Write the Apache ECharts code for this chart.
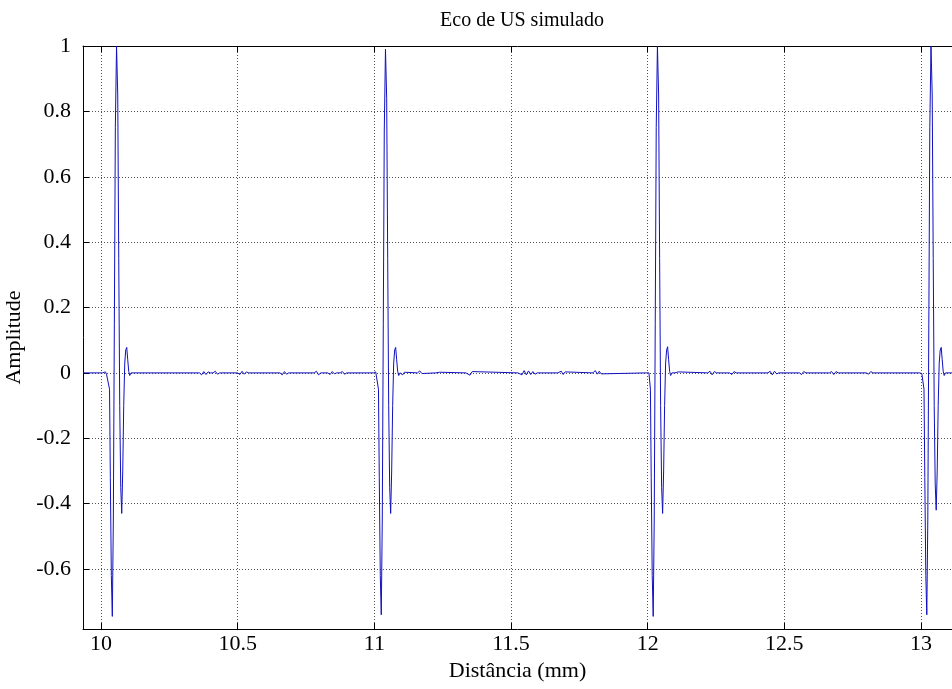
<!DOCTYPE html>
<html>
<head>
<meta charset="utf-8">
<title>Eco de US simulado</title>
<script src="https://cdn.jsdelivr.net/npm/echarts@6/dist/echarts.min.js"></script>
<style>
  html, body { margin: 0; padding: 0; background: #ffffff; }
  #chart { width: 952px; height: 689px; }
</style>
</head>
<body>
<div id="chart"></div>
<script>
// Tick positions of both axes
const xTicks = [10, 10.5, 11, 11.5, 12, 12.5, 13];
const yTicks = [-0.6, -0.4, -0.2, 0, 0.2, 0.4, 0.6, 0.8, 1];

// Visible window of the plot (mm, amplitude)
const xRange = [9.934, 13.1135];
const yRange = [-0.7835, 1];

// Echo pulses: [distance (mm), amplitude]
const echo1 = [
  [10.0256, 0], [10.0311, -0.05], [10.0340, -0.32], [10.0377, -0.62], [10.0413, -0.745],
  [10.0450, -0.45], [10.0487, 0.15], [10.0523, 0.75], [10.0567, 1.0], [10.0611, 0.85],
  [10.0648, 0.35], [10.0684, -0.1], [10.0721, -0.35], [10.0757, -0.43], [10.0794, -0.3],
  [10.0830, -0.1], [10.0867, 0.03], [10.0904, 0.07], [10.0940, 0.078], [10.0977, 0.04],
  [10.1013, 0.005], [10.1050, -0.008], [10.1098, 0]
];
const echo2 = [
  [11.0096, 0], [11.0151, -0.05], [11.0180, -0.32], [11.0217, -0.62], [11.0253, -0.74],
  [11.0290, -0.45], [11.0327, 0.15], [11.0363, 0.74], [11.0407, 0.99], [11.0451, 0.84],
  [11.0488, 0.35], [11.0524, -0.1], [11.0561, -0.35], [11.0597, -0.43], [11.0634, -0.3],
  [11.0670, -0.1], [11.0707, 0.03], [11.0744, 0.07], [11.0780, 0.078], [11.0817, 0.04],
  [11.0853, 0.005], [11.0890, -0.008], [11.0938, 0]
];
const echo3 = [
  [12.0046, 0], [12.0101, -0.05], [12.0130, -0.32], [12.0167, -0.62], [12.0203, -0.745],
  [12.0240, -0.45], [12.0277, 0.15], [12.0313, 0.75], [12.0357, 1.0], [12.0401, 0.85],
  [12.0438, 0.35], [12.0474, -0.1], [12.0511, -0.35], [12.0547, -0.43], [12.0584, -0.3],
  [12.0620, -0.1], [12.0657, 0.03], [12.0694, 0.07], [12.0730, 0.08], [12.0767, 0.04],
  [12.0803, 0.005], [12.0840, -0.008], [12.0888, 0]
];
const echo4 = [
  [13.0056, 0], [13.0111, -0.05], [13.0140, -0.32], [13.0177, -0.62], [13.0213, -0.74],
  [13.0250, -0.45], [13.0287, 0.15], [13.0323, 0.75], [13.0367, 1.0], [13.0411, 0.85],
  [13.0448, 0.35], [13.0484, -0.1], [13.0521, -0.34], [13.0557, -0.42], [13.0594, -0.3],
  [13.0630, -0.1], [13.0667, 0.03], [13.0704, 0.07], [13.0740, 0.078], [13.0777, 0.04],
  [13.0813, 0.005], [13.0850, -0.008], [13.0898, 0]
];

// Small ripples on the baseline between echoes
const ripples = [
  [9.934, 0], [10.005, 0], [10.010, 0.004], [10.016, 0.003], [10.020, -0.004], [10.023, 0.002],
  [10.36, 0], [10.368, -0.006], [10.376, 0.004], [10.384, -0.005], [10.392, 0.003], [10.40, 0],
  [10.41, 0], [10.418, 0.005], [10.426, -0.004], [10.434, 0],
  [10.50, 0], [10.508, -0.005], [10.516, 0.005], [10.524, -0.004], [10.532, 0.003], [10.54, 0],
  [10.655, 0], [10.663, -0.006], [10.671, 0.004], [10.679, -0.004], [10.687, 0],
  [10.78, 0], [10.788, 0.005], [10.796, -0.006], [10.804, 0],
  [10.83, 0], [10.838, -0.005], [10.846, 0.004], [10.854, -0.003], [10.862, 0],
  [10.875, 0], [10.883, 0.004], [10.891, -0.004], [10.899, 0],
  [10.996, 0], [11.001, -0.003], [11.005, 0.003],
  [11.100, 0], [11.104, -0.006], [11.110, 0.002], [11.115, 0],
  [11.158, 0], [11.166, 0.006], [11.174, -0.002], [11.180, 0],
  [11.225, 0], [11.232, -0.006], [11.239, 0.002], [11.245, 0],
  [11.335, 0], [11.342, 0.005], [11.350, -0.007], [11.358, 0.004], [11.365, 0],
  [11.525, 0], [11.532, 0.006], [11.540, -0.006], [11.548, 0.007], [11.556, -0.006],
  [11.564, 0.006], [11.572, -0.005], [11.580, 0.004], [11.588, -0.004], [11.596, 0],
  [11.670, 0], [11.677, -0.005], [11.684, 0.005], [11.691, -0.005], [11.698, 0.003], [11.705, 0],
  [11.800, 0], [11.808, 0.007], [11.816, -0.004], [11.823, 0.005], [11.830, -0.003], [11.837, 0],
  [11.995, 0], [12.000, -0.003], [12.002, 0.002],
  [12.100, 0], [12.106, -0.006], [12.112, 0.003], [12.118, 0],
  [12.220, 0], [12.228, 0.005], [12.236, -0.006], [12.244, 0.004], [12.252, 0],
  [12.300, 0], [12.308, -0.005], [12.316, 0.004], [12.324, 0],
  [12.440, 0], [12.448, 0.005], [12.456, -0.006], [12.464, 0.005], [12.472, -0.003], [12.480, 0],
  [12.555, 0], [12.563, -0.005], [12.571, 0.004], [12.579, 0],
  [12.665, 0], [12.673, 0.004], [12.681, -0.005], [12.689, 0.004], [12.697, 0],
  [12.800, 0], [12.808, -0.004], [12.816, 0.004], [12.824, 0],
  [12.995, 0], [13.000, 0.003], [13.003, -0.002],
  [13.095, 0], [13.1135, 0]
];

// Merge echoes and ripples into one trace ordered by distance
const trace = [...echo1, ...echo2, ...echo3, ...echo4, ...ripples].sort((a, b) => a[0] - b[0]);

const serif = 'Liberation Serif, Times New Roman, serif';
const dotted = { type: [1, 2], color: '#555', width: 1 };

const chart = echarts.init(document.getElementById('chart'), null, { renderer: 'canvas' });
chart.setOption({
  animation: false,
  backgroundColor: '#ffffff',
  title: {
    text: 'Eco de US simulado',
    left: 517, top: 6, textAlign: 'center',
    textStyle: { fontFamily: serif, fontSize: 20, fontWeight: 'normal', color: '#000' }
  },
  grid: { left: 83, top: 46, right: 0, bottom: 60, containLabel: false, outerBoundsMode: 'none' },
  xAxis: [{
    type: 'value', position: 'bottom', min: xRange[0], max: xRange[1],
    name: 'Distância (mm)', nameLocation: 'middle', nameGap: 24,
    nameTextStyle: { fontFamily: serif, fontSize: 22, color: '#000' },
    axisLine: { show: true, onZero: false, lineStyle: { color: '#000', width: 1 } },
    axisTick: { show: true, inside: true, length: 6, customValues: xTicks, lineStyle: { color: '#000' } },
    axisLabel: { customValues: xTicks, fontFamily: serif, fontSize: 22, color: '#000', margin: 4 },
    splitLine: { show: true, lineStyle: dotted }
  }, {
    type: 'value', position: 'top', min: xRange[0], max: xRange[1],
    axisLine: { show: true, onZero: false, lineStyle: { color: '#000', width: 1 } },
    axisTick: { show: true, inside: true, length: 6, customValues: xTicks, lineStyle: { color: '#000' } },
    axisLabel: { show: false },
    splitLine: { show: false }
  }],
  yAxis: [{
    type: 'value', min: yRange[0], max: yRange[1],
    name: 'Amplitude', nameLocation: 'middle', nameGap: 53, nameRotate: 90,
    nameTextStyle: { fontFamily: serif, fontSize: 22, color: '#000' },
    axisLine: { show: true, onZero: false, lineStyle: { color: '#000', width: 1 } },
    axisTick: { show: true, inside: true, length: 6, customValues: yTicks, lineStyle: { color: '#000' } },
    axisLabel: { customValues: yTicks, fontFamily: serif, fontSize: 22, color: '#000', margin: 12 },
    splitLine: { show: true, lineStyle: dotted }
  }],
  series: [{
    type: 'line',
    xAxisIndex: 0,
    data: trace,
    showSymbol: false,
    sampling: null,
    lineStyle: { color: '#1010c0', width: 1 },
    clip: true
  }]
});
</script>
</body>
</html>
